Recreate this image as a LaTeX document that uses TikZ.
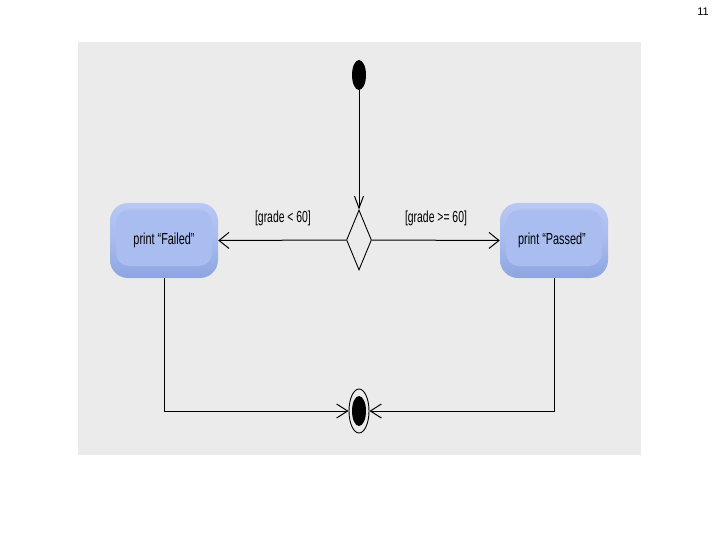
\documentclass[tikz,border=0pt]{standalone}
\usepackage{fontspec}
\setmainfont{Liberation Sans}
\usetikzlibrary{arrows.meta,shapes.geometric}
\definecolor{bgpanel}{HTML}{EBEBEB}
\definecolor{stateHi}{HTML}{B9C7F3}
\definecolor{stateMid}{HTML}{A7BBEE}
\definecolor{stateLo}{HTML}{8DA4E0}
\definecolor{stateFace}{HTML}{A9BDF0}
\tikzset{
  statebox/.style={rounded corners=18pt, minimum width=108pt, minimum height=75pt,
    top color=stateHi, bottom color=stateLo, middle color=stateMid, draw=none, inner sep=0pt},
  stateface/.style={rounded corners=13pt, minimum width=96pt, minimum height=56pt,
    fill=stateFace, draw=none, inner sep=0pt},
  arr/.style={line width=1pt, -{Straight Barb[length=10pt,width=16pt,line width=1pt]}},
  lbl/.style={font=\fontsize{16}{18}\selectfont, inner sep=0pt},
  txt/.style={font=\fontsize{16}{18}\selectfont, inner sep=0pt, text=black},
}
\begin{document}
\begin{tikzpicture}[x=1pt,y=-1pt]
\useasboundingbox (0,0) rectangle (720,540);
\fill[bgpanel] (78,42) rectangle (641,455);
\node[font=\fontsize{11}{12}\selectfont, inner sep=0pt] (pagenum) at (703,12) {11};

% initial
\node[ellipse, fill=black, minimum width=14pt, minimum height=30pt, inner sep=0pt] (init) at (359,75) {};
% decision
\node[diamond, draw=black, line width=0.9pt, minimum width=25pt, minimum height=60pt, inner sep=0pt] (dec) at (359,240) {};
% states
\node[statebox] (failed) at (164,240.5) {};
\node[stateface] (failedface) at (164,238) {};
\node[txt] (failedtxt) at (164,240) {\scalebox{0.68}[1]{print “Failed”}};
\node[statebox] (passed) at (554,240.5) {};
\node[stateface] (passedface) at (554,238) {};
\node[txt] (passedtxt) at (552,240) {\scalebox{0.68}[1]{print “Passed”}};
% final
\node[ellipse, draw=black, line width=0.9pt, minimum width=20pt, minimum height=44pt, inner sep=0pt] (final) at (359,411) {};
\node[ellipse, fill=black, minimum width=14pt, minimum height=30pt, inner sep=0pt] (finalin) at (359,411) {};

% labels
\node[lbl] (lblfail) at (283,218) {\scalebox{0.65}[1]{[grade < 60]}};
\node[lbl] (lblpass) at (436,218) {\scalebox{0.65}[1]{[grade >= 60]}};

% connectors
\draw[line width=1pt, -{Straight Barb[length=12pt,width=9pt,line width=1pt]}] (init.south) -- (dec.north);
\draw[arr] (dec.west) -- (failed.east);
\draw[arr] (dec.east) -- (passed.west);
\draw[line width=1pt, -{Straight Barb[length=11pt,width=14pt,line width=1pt]}] (failed.south) |- (final.west);
\draw[line width=1pt, -{Straight Barb[length=11pt,width=14pt,line width=1pt]}] (passed.south) |- (final.east);
\end{tikzpicture}
\end{document}
